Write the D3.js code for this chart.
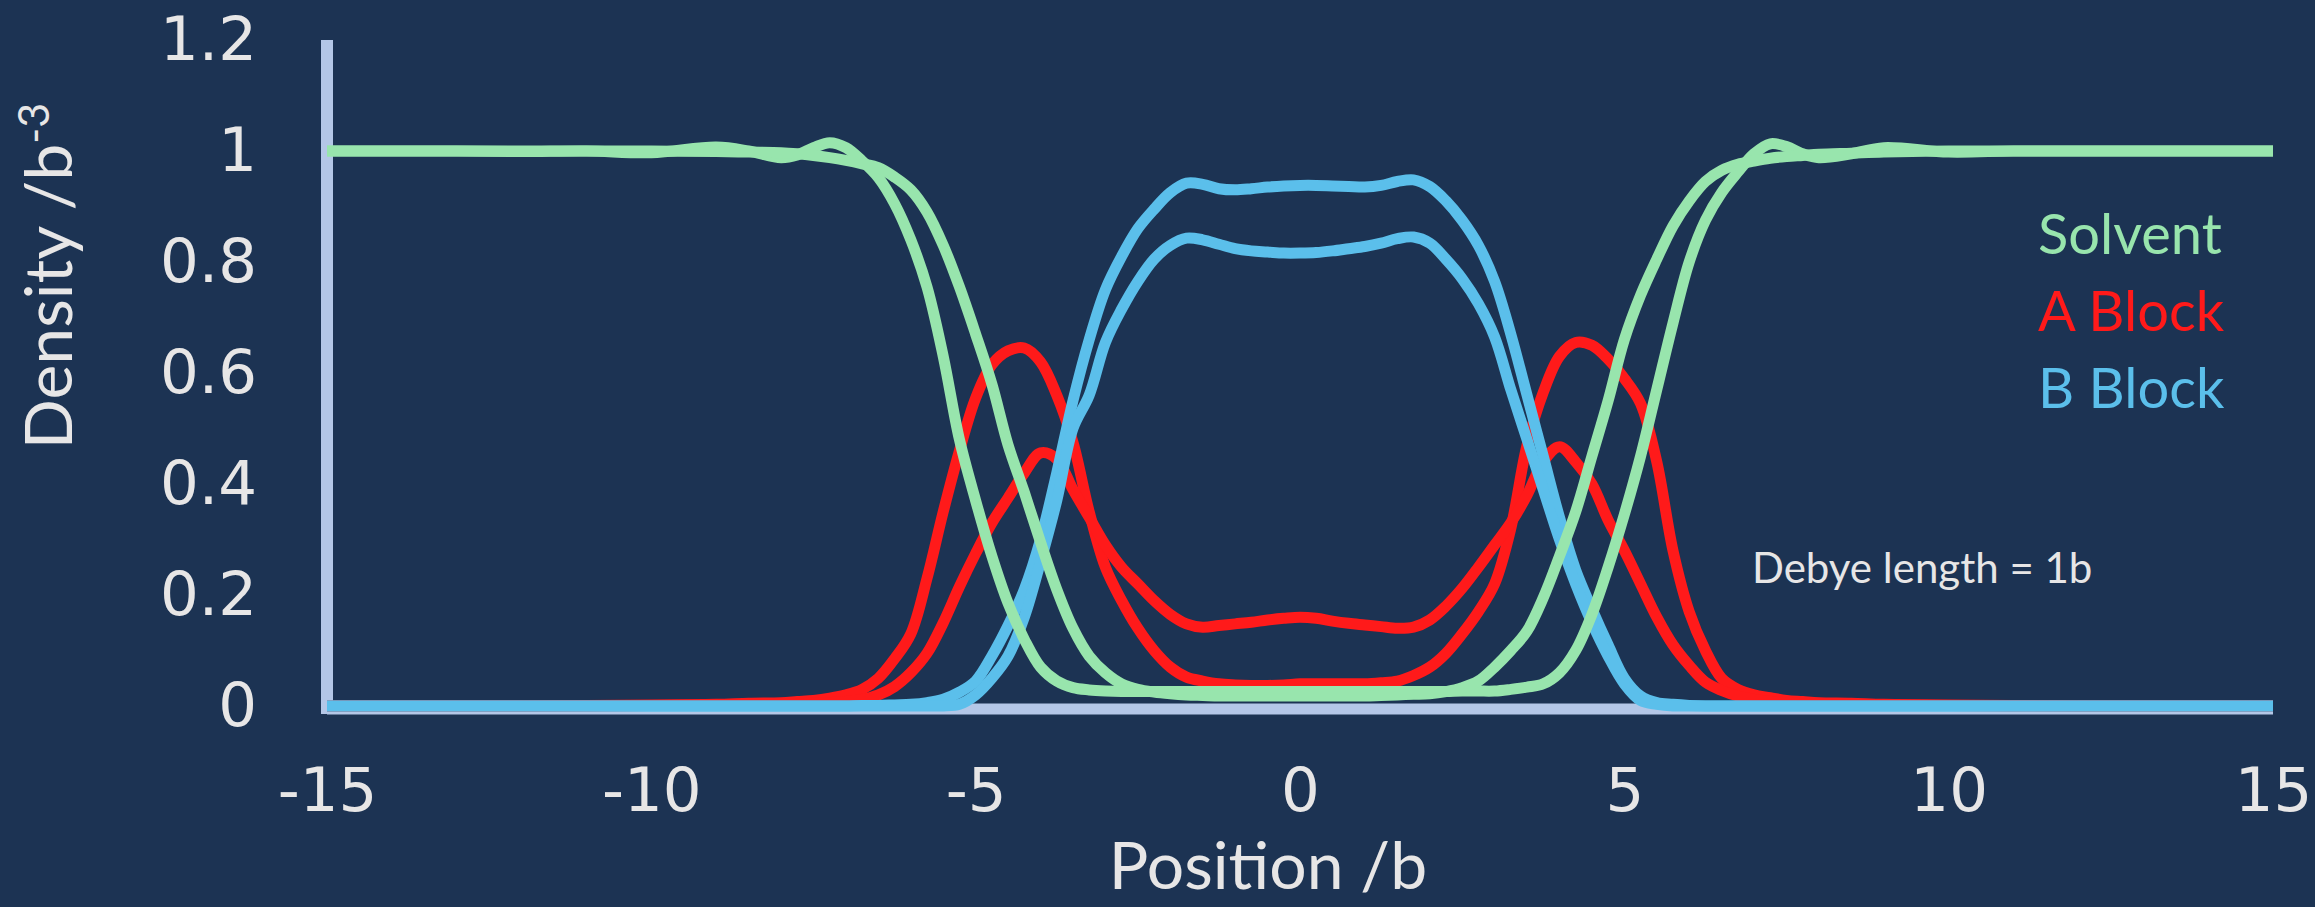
<!DOCTYPE html>
<html>
<head>
<meta charset="utf-8">
<script src="https://cdn.jsdelivr.net/npm/d3@7"></script>
<style>
  html, body { margin: 0; padding: 0; background: #1c3353; }
  svg { display: block; }
</style>
</head>
<body>
<svg id="chart" width="2315" height="907"></svg>
<script>
// Sample positions along the film normal (units of b)
const positions = [
  -15, -14, -13, -12, -11, -10, -9, -8.5,
  -8, -7.75, -7.5, -7.25, -7, -6.75, -6.5, -6.25,
  -6, -5.75, -5.5, -5.25, -5, -4.75, -4.5, -4.25,
  -4, -3.75, -3.5, -3.25, -3, -2.75, -2.5, -2.25,
  -2, -1.75, -1.5, -1.25, -1, -0.75, -0.5, -0.25,
  0, 0.25, 0.5, 0.75, 1, 1.25, 1.5, 1.75,
  2, 2.25, 2.5, 2.75, 3, 3.25, 3.5, 3.75,
  4, 4.25, 4.5, 4.75, 5, 5.25, 5.5, 5.75,
  6, 6.25, 6.5, 6.75, 7, 7.25, 7.5, 7.75,
  8, 8.5, 9, 10, 11, 12, 13, 14, 15
];

// Solvent density, wider profile
const solventOuter = [
  1.0, 1.0, 1.0, 0.999, 1.0, 0.997, 1.007, 1.0,
  0.988, 0.993, 1.006, 1.015, 1.006, 0.982, 0.952, 0.905,
  0.84, 0.755, 0.63, 0.48, 0.37, 0.27, 0.185, 0.12,
  0.07, 0.045, 0.033, 0.029, 0.027, 0.026, 0.026, 0.026,
  0.026, 0.026, 0.026, 0.026, 0.026, 0.026, 0.026, 0.026,
  0.026, 0.026, 0.026, 0.026, 0.026, 0.026, 0.026, 0.026,
  0.026, 0.026, 0.027, 0.027, 0.027, 0.03, 0.034, 0.04,
  0.06, 0.1, 0.165, 0.25, 0.345, 0.45, 0.57, 0.69,
  0.8, 0.875, 0.925, 0.962, 0.995, 1.013, 1.008, 0.995,
  0.988, 0.995, 1.006, 0.998, 1.0, 1.0, 1.0, 1.0, 1.0
];

// Solvent density, narrower profile
const solventInner = [
  1.0, 1.0, 1.0, 1.0, 1.0, 1.0, 0.999, 0.998,
  0.997, 0.995, 0.992, 0.988, 0.983, 0.977, 0.97, 0.953,
  0.93, 0.89, 0.83, 0.755, 0.67, 0.58, 0.47, 0.385,
  0.295, 0.21, 0.14, 0.09, 0.06, 0.04, 0.03, 0.025,
  0.022, 0.02, 0.019, 0.018, 0.018, 0.018, 0.018, 0.018,
  0.018, 0.018, 0.018, 0.018, 0.018, 0.019, 0.02, 0.021,
  0.022, 0.026, 0.033, 0.045, 0.07, 0.1, 0.135, 0.195,
  0.27, 0.35, 0.45, 0.55, 0.66, 0.74, 0.805, 0.865,
  0.91, 0.945, 0.965, 0.976, 0.982, 0.987, 0.99, 0.992,
  0.994, 0.996, 0.998, 1.0, 1.0, 1.0, 1.0, 1.0, 1.0
];

// A block density, sharp interfacial peaks
const blockAPeaked = [
  0, 0, 0, 0, 0.001, 0.002, 0.003, 0.005,
  0.006, 0.008, 0.01, 0.014, 0.02, 0.03, 0.05, 0.085,
  0.13, 0.23, 0.35, 0.46, 0.555, 0.615, 0.64, 0.645,
  0.62, 0.56, 0.475, 0.35, 0.25, 0.19, 0.14, 0.1,
  0.07, 0.052, 0.045, 0.04, 0.038, 0.037, 0.037, 0.038,
  0.04, 0.04, 0.04, 0.04, 0.04, 0.042, 0.045, 0.055,
  0.07, 0.095, 0.13, 0.17, 0.22, 0.32, 0.47, 0.565,
  0.63, 0.655, 0.65, 0.625, 0.59, 0.545, 0.44, 0.28,
  0.17, 0.1, 0.05, 0.03, 0.02, 0.015, 0.01, 0.008,
  0.006, 0.005, 0.003, 0.002, 0.001, 0, 0, 0, 0
];

// A block density, broad profile reaching into the core
const blockABroad = [
  0, 0, 0, 0, 0, 0.001, 0.001, 0.002,
  0.003, 0.004, 0.005, 0.006, 0.008, 0.012, 0.02, 0.035,
  0.06, 0.095, 0.15, 0.215, 0.275, 0.33, 0.375, 0.42,
  0.456, 0.445, 0.39, 0.34, 0.29, 0.25, 0.22, 0.19,
  0.165, 0.148, 0.142, 0.145, 0.148, 0.151, 0.155, 0.158,
  0.16, 0.158, 0.153, 0.149, 0.146, 0.143, 0.14, 0.142,
  0.155, 0.18, 0.212, 0.25, 0.29, 0.33, 0.38, 0.44,
  0.467, 0.44, 0.4, 0.335, 0.28, 0.22, 0.16, 0.11,
  0.073, 0.043, 0.028, 0.018, 0.012, 0.008, 0.006, 0.004,
  0.003, 0.002, 0.001, 0.001, 0, 0, 0, 0, 0
];

// B block density, high core plateau
const blockBHigh = [
  0, 0, 0, 0, 0, 0, 0, 0,
  0, 0, 0, 0, 0, 0.001, 0.001, 0.002,
  0.003, 0.006, 0.012, 0.025, 0.045, 0.09, 0.145, 0.21,
  0.3, 0.42, 0.55, 0.66, 0.75, 0.81, 0.86, 0.895,
  0.925, 0.942, 0.94, 0.932, 0.93, 0.932, 0.935, 0.937,
  0.938, 0.938, 0.937, 0.936, 0.935, 0.938, 0.945, 0.948,
  0.936, 0.91, 0.875, 0.83, 0.765, 0.67, 0.56, 0.45,
  0.34, 0.245, 0.175, 0.11, 0.05, 0.018, 0.006, 0.003,
  0.001, 0, 0, 0, 0, 0, 0, 0,
  0, 0, 0, 0, 0, 0, 0, 0, 0
];

// B block density, lower core plateau
const blockBLow = [
  0, 0, 0, 0, 0, 0, 0, 0,
  0, 0, 0, 0, 0, 0, 0, 0,
  0, 0, 0, 0.003, 0.02, 0.05, 0.09, 0.16,
  0.26, 0.37, 0.5, 0.56, 0.655, 0.715, 0.765, 0.805,
  0.83, 0.843, 0.84, 0.832, 0.824, 0.82, 0.818, 0.816,
  0.816, 0.817, 0.82, 0.824, 0.828, 0.834, 0.842, 0.845,
  0.834, 0.805, 0.77, 0.725, 0.665, 0.57, 0.48, 0.39,
  0.3, 0.22, 0.15, 0.09, 0.04, 0.01, 0.003, 0,
  0, 0, 0, 0, 0, 0, 0, 0,
  0, 0, 0, 0, 0, 0, 0, 0, 0
];

const xTicks = [-15, -10, -5, 0, 5, 10, 15];
const yTicks = [0, 0.2, 0.4, 0.6, 0.8, 1, 1.2];
const legendLabels = ["Solvent", "A Block", "B Block"];
const noteText = "Debye length = 1b";

// Colours
const BG = "#1c3353";
const TEXT = "#e7e6e6";
const AXIS = "#b4c7e7";
const GREEN = "#98e5ad";
const RED = "#ff1a1a";
const BLUE = "#5bbfeb";

const svg = d3.select("#chart");
svg.append("rect").attr("width", 2315).attr("height", 907).attr("fill", BG);

const x = d3.scaleLinear().domain([-15, 15]).range([327, 2273]);
const y = d3.scaleLinear().domain([0, 1.2]).range([706, 40]);

// Axis lines
svg.append("line")
  .attr("x1", x(-15)).attr("x2", x(15))
  .attr("y1", y(0) + 3).attr("y2", y(0) + 3)
  .attr("stroke", AXIS).attr("stroke-width", 11);
svg.append("line")
  .attr("x1", x(-15)).attr("x2", x(-15))
  .attr("y1", y(1.2)).attr("y2", y(0) + 8)
  .attr("stroke", AXIS).attr("stroke-width", 12);

// Tick labels
const tickFont = "'DejaVu Sans', Verdana, sans-serif";
const gx = svg.append("g")
  .attr("transform", "translate(0,768)")
  .call(d3.axisBottom(x).tickValues(xTicks).tickSize(0).tickPadding(0).tickFormat(d => String(d)));
gx.select(".domain").remove();
gx.selectAll("text")
  .attr("fill", TEXT).attr("font-family", tickFont).attr("font-size", 61);

const gy = svg.append("g")
  .attr("transform", "translate(257,0)")
  .call(d3.axisLeft(y).tickValues(yTicks).tickSize(0).tickPadding(0).tickFormat(d => String(d)));
gy.select(".domain").remove();
gy.selectAll("text")
  .attr("fill", TEXT).attr("font-family", tickFont).attr("font-size", 61);

// Axis titles
const titleFont = "Lato, 'Open Sans', sans-serif";
svg.append("text")
  .attr("x", 1268).attr("y", 889)
  .attr("text-anchor", "middle")
  .attr("fill", TEXT).attr("font-family", titleFont).attr("font-size", 66)
  .text("Position /b");

const yTitle = svg.append("text")
  .attr("transform", "translate(72,276) rotate(-90)")
  .attr("text-anchor", "middle")
  .attr("fill", TEXT).attr("font-family", titleFont).attr("font-size", 66);
yTitle.append("tspan").text("Density /b");
yTitle.append("tspan").attr("font-size", 43).attr("dy", -23).text("-3");

// Density profiles
const series = [
  { values: blockAPeaked, color: RED },
  { values: blockABroad, color: RED },
  { values: blockBHigh, color: BLUE },
  { values: blockBLow, color: BLUE },
  { values: solventOuter, color: GREEN },
  { values: solventInner, color: GREEN }
];
const line = d3.line()
  .x(d => x(d[0]))
  .y(d => y(d[1]))
  .curve(d3.curveCatmullRom.alpha(0.5));

svg.append("g").selectAll("path")
  .data(series)
  .join("path")
  .attr("d", s => line(positions.map((p, i) => [p, s.values[i]])))
  .attr("fill", "none")
  .attr("stroke", s => s.color)
  .attr("stroke-width", 11)
  .attr("stroke-linejoin", "round");

// Legend
const legendColors = [GREEN, RED, BLUE];
svg.append("g").selectAll("text")
  .data(legendLabels)
  .join("text")
  .attr("x", 2038)
  .attr("y", (d, i) => 254 + i * 77)
  .attr("fill", (d, i) => legendColors[i])
  .attr("font-family", titleFont)
  .attr("font-size", 56)
  .text(d => d);

// Annotation
svg.append("text")
  .attr("x", 1752).attr("y", 583)
  .attr("fill", TEXT).attr("font-family", titleFont).attr("font-size", 42)
  .text(noteText);
</script>
</body>
</html>
